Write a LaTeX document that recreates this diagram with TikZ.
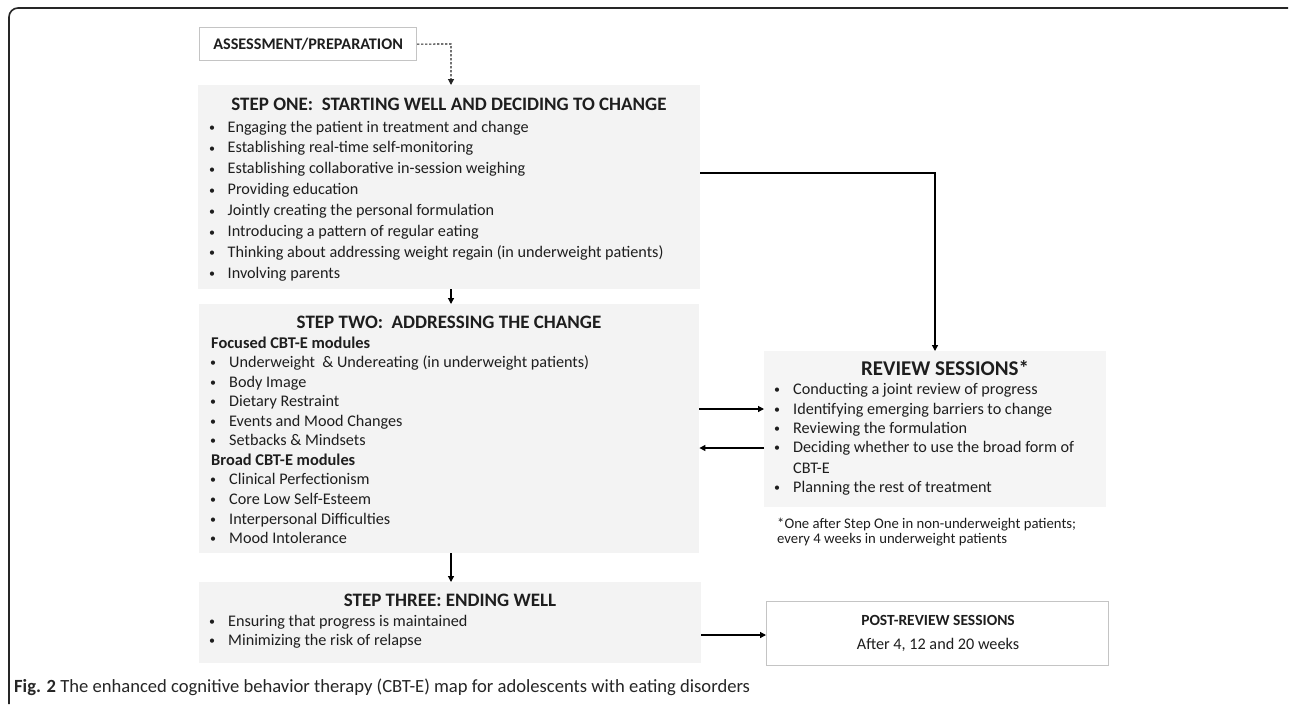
\documentclass[tikz,border=0pt]{standalone}
\usepackage{fontspec}
\setmainfont{Carlito}
\usetikzlibrary{arrows.meta,calc}
\definecolor{boxfill}{HTML}{F3F3F3}
\definecolor{revfill}{HTML}{F5F5F5}
\definecolor{lightborder}{HTML}{C4C4C4}
\definecolor{ink}{HTML}{1E1E1E}
\tikzset{
  stepbox/.style={fill=boxfill, draw=none, inner sep=0, anchor=north west},
  plainbox/.style={fill=white, draw=lightborder, line width=1.2pt, inner sep=0, anchor=north west},
  txt/.style={anchor=base west, inner sep=0, text=ink, font=\fontsize{16.2}{19}\selectfont},
  dot/.style={anchor=base, inner sep=0, text=ink, font=\fontsize{12}{14}\selectfont},
  foot/.style={anchor=base west, inner sep=0, text=ink, font=\fontsize{14.7}{17}\selectfont},
  head/.style={anchor=base west, inner sep=0, text=ink, font=\fontsize{16.4}{20}\selectfont\bfseries},
  ttl/.style={anchor=base, inner sep=0, text=ink, font=\fontsize{19}{23}\selectfont\bfseries},
  arr/.style={draw=black, line width=1.3pt, -{Triangle[width=6pt,length=6pt]}},
  darr/.style={draw=black!85, line width=1.1pt, dash pattern=on 2.2pt off 1.8pt, -{Triangle[width=6pt,length=6pt]}},
}
\begin{document}
\begin{tikzpicture}[x=1pt,y=-1pt]
\useasboundingbox (0,0) rectangle (1290,704);
\fill[white] (0,0) rectangle (1290,704);
% outer frame
\draw[line width=1.6pt, color=black!85, rounded corners=9pt] (9,704) -- (9,8) -- (1288,8);

% boxes
\node[plainbox, minimum width=217, minimum height=33, font=\fontsize{16.2}{19}\selectfont\bfseries, text=ink] (assess) at (199,27) {ASSESSMENT/PREPARATION};
\node[stepbox, minimum width=502, minimum height=204] (s1) at (198,85) {};
\node[stepbox, minimum width=500, minimum height=249] (s2) at (199,304) {};
\node[stepbox, fill=revfill, minimum width=342, minimum height=156] (rev) at (764,351) {};
\node[stepbox, minimum width=502, minimum height=81] (s3) at (199,582) {};
\node[plainbox, minimum width=342, minimum height=64] (post) at (766,601) {};

% step one
\node[ttl] (s1t) at (449,110) {STEP ONE:\ \ STARTING WELL AND DECIDING TO CHANGE};
\foreach \t [count=\i from 0] in {Engaging the patient in treatment and change,
  Establishing real-time self-monitoring,
  Establishing collaborative in-session weighing,
  Providing education,
  Jointly creating the personal formulation,
  Introducing a pattern of regular eating,
  Thinking about addressing weight regain (in underweight patients),
  Involving parents}{
  \node[dot] (s1d\i) at (212,131.5+\i*20.9) {•};
  \node[txt] (s1b\i) at (227.5,132+\i*20.9) {\t};
}

% step two
\node[ttl] (s2t) at (449,328) {STEP TWO:\ \ ADDRESSING THE CHANGE};
\node[head] (s2h1) at (211,348.5) {Focused CBT-E modules};
\foreach \t/\y [count=\i] in {Underweight\ \ \& Undereating (in underweight patients)/367,
  Body Image/387, Dietary Restraint/406, Events and Mood Changes/426, Setbacks \& Mindsets/445}{
  \node[dot] (s2d\i) at (213,\y-0.5) {•};
  \node[txt] (s2b\i) at (229,\y) {\t};
}
\node[head] (s2h2) at (211,465.5) {Broad CBT-E modules};
\foreach \t/\y [count=\i] in {Clinical Perfectionism/484, Core Low Self-Esteem/504,
  Interpersonal Difficulties/524, Mood Intolerance/543}{
  \node[dot] (s2e\i) at (213,\y-0.5) {•};
  \node[txt] (s2c\i) at (229,\y) {\t};
}

% review
\node[ttl, font=\fontsize{21}{25}\selectfont\bfseries] (revt) at (945,375) {REVIEW SESSIONS*};
\foreach \t/\y [count=\i] in {Conducting a joint review of progress/394,
  Identifying emerging barriers to change/414, Reviewing the formulation/433,
  Deciding whether to use the broad form of/452, Planning the rest of treatment/492}{
  \node[dot] (rd\i) at (777,\y-0.5) {•};
  \node[txt] (rb\i) at (793,\y) {\t};
}
\node[txt] (rb4b) at (793,473) {CBT-E};
\node[foot] (fn1) at (777,528) {*One after Step One in non-underweight patients;};
\node[foot] (fn2) at (777,543) {every 4 weeks in underweight patients};

% step three
\node[ttl] (s3t) at (450,606) {STEP THREE: ENDING WELL};
\node[dot] (s3d1) at (212,625.5) {•};
\node[txt] (s3b1) at (228,626) {Ensuring that progress is maintained};
\node[dot] (s3d2) at (212,644.5) {•};
\node[txt] (s3b2) at (228,645) {Minimizing the risk of relapse};

% post review
\node[anchor=base, inner sep=0, text=ink, font=\fontsize{15.5}{19}\selectfont\bfseries] (pt) at (938,625) {POST-REVIEW SESSIONS};
\node[anchor=base, inner sep=0, text=ink, font=\fontsize{16.2}{19}\selectfont] (pb) at (938,649) {After 4, 12 and 20 weeks};

% connectors
\coordinate (c1) at (451,44);
\coordinate (k1) at (935,173);
\coordinate (k2) at (0,409);
\coordinate (k3) at (0,448);
\coordinate (k4) at (0,635);
\draw[darr] (assess.east) -- (c1) -- (s1.north -| c1);
\draw[arr] (s1.south -| c1) -- (s2.north -| c1);
\draw[arr] (s1.east |- k1) -| (rev.north -| k1);
\draw[arr] (s2.east |- k2) -- (rev.west |- k2);
\draw[arr] (rev.west |- k3) -- (s2.east |- k3);
\draw[arr] (s2.south -| c1) -- (s3.north -| c1);
\draw[arr] (s3.east |- k4) -- (post.west |- k4);

% caption
\node[anchor=base west, inner sep=0, text=black!85, font=\fontsize{18.6}{22}\selectfont] (cap) at (14,692) {\textbf{Fig. 2} The enhanced cognitive behavior therapy (CBT-E) map for adolescents with eating disorders};
\end{tikzpicture}
\end{document}
